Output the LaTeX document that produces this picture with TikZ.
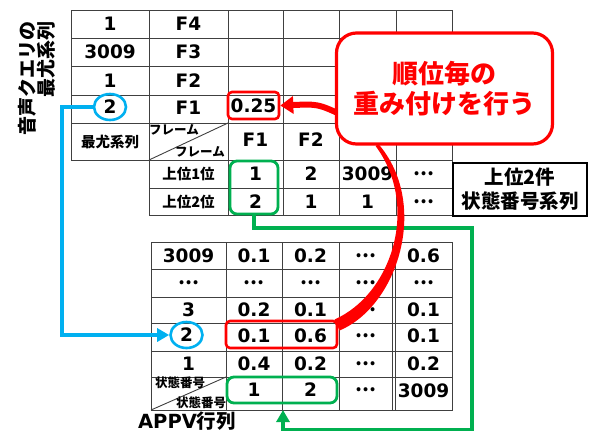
\documentclass[tikz,border=0pt]{standalone}
\usepackage{fontspec}
\setmainfont{DejaVu Sans}
\newfontfamily\jp{Noto Sans CJK JP}
\usetikzlibrary{arrows.meta,shapes.geometric}
\definecolor{cblue}{HTML}{00B0F0}
\definecolor{cgreen}{HTML}{00B050}
\definecolor{cred}{HTML}{FF0000}
\newcommand{\jpdots}{{\jp\bfseries …}}
\begin{document}
\begin{tikzpicture}[x=1pt,y=-1pt,
  grid/.style={draw=black!75,line width=0.9pt},
  num/.style={font=\fontsize{18.5}{20}\selectfont\bfseries,inner sep=0pt},
  jps/.style={font=\jp\fontsize{14.5}{16}\selectfont\bfseries,inner sep=0pt},
  jpt/.style={font=\jp\fontsize{12.5}{14}\selectfont\bfseries,inner sep=0pt},
  bluecirc/.style={ellipse,draw=cblue,line width=2.6pt,minimum width=32pt,minimum height=26pt},
  redbox/.style={draw=cred,line width=2.6pt,rounded corners=4pt},
  greenbox/.style={draw=cgreen,line width=2.8pt,rounded corners=7pt},
  bluearrow/.style={cblue,line width=3.3pt,-{Triangle[length=12pt,width=13pt]}},
  greenarrow/.style={cgreen,line width=3.3pt,-{Triangle[length=12pt,width=13pt]}}]
\useasboundingbox (0,0) rectangle (594,432);

% ---------- top table grid ----------
\draw[grid] (71,10) rectangle (452,160);
\foreach \y in {38,66,95,123} \draw[grid] (71,\y) -- (452,\y);
\foreach \x in {149,228,283,339,396,452} \draw[grid] (\x,10) -- (\x,215);
\foreach \y in {188,215} \draw[grid] (149,\y) -- (452,\y);
\draw[grid] (149,160) -- (228,123);

% ---------- top table text ----------
\node[num] (a11) at (110,24) {1};
\node[num] (a12) at (188.5,24) {F4};
\node[num] (a21) at (110,52) {3009};
\node[num] (a22) at (188.5,52) {F3};
\node[num] (a31) at (110,80.5) {1};
\node[num] (a32) at (188.5,80.5) {F2};
\node[num,bluecirc] (a41) at (110,107) {2};
\node[num] (a42) at (188.5,108) {F1};
\node[num,redbox,minimum width=51pt,minimum height=27pt] (a43) at (253.5,105.5) {0.25};
\node[jps] (a51) at (110,141.5) {最尤系列};
\node[jpt] (a52) at (174,130) {フレーム};
\node[jpt] (a53) at (200,152) {フレーム};
\node[num] (a54) at (255.5,140) {F1};
\node[num] (a55) at (311,140) {F2};
\node[jps] (a61) at (188.5,174) {上位1位};
\node[num] (a62) at (255.5,174) {1};
\node[num] (a63) at (311,174) {2};
\node[num] (a64) at (367.5,174) {3009};
\node[num] (a65) at (424,174) {\jpdots};
\node[jps] (a71) at (188.5,201.5) {上位2位};
\node[num] (a72) at (255.5,201.5) {2};
\node[num] (a73) at (311,201.5) {1};
\node[num] (a74) at (367.5,201.5) {1};
\node[num] (a75) at (424,201.5) {\jpdots};
\node[greenbox,minimum width=48pt,minimum height=53pt] (gtop) at (254,187.5) {};

% ---------- top-k box ----------
\node[draw=black,line width=2.4pt,minimum width=134pt,minimum height=53pt,align=center,
      font=\jp\fontsize{19.5}{24}\selectfont\bfseries,inner sep=0pt] (kbox) at (520,189.5) {上位2件\\状態番号系列};

% ---------- bottom table grid ----------
\draw[grid] (151,242) rectangle (452,410);
\foreach \y in {269,297,323,351,377} \draw[grid] (151,\y) -- (452,\y);
\foreach \x in {226,282,339,392.5,395.5} \draw[grid] (\x,242) -- (\x,410);
\draw[grid] (151,410) -- (226,377);

% ---------- bottom table text ----------
\node[num] (b11) at (188.5,255.5) {3009};
\node[num] (b12) at (254,255.5) {0.1};
\node[num] (b13) at (310.5,255.5) {0.2};
\node[num] (b14) at (366,255.5) {\jpdots};
\node[num] (b15) at (423.5,255.5) {0.6};
\node[num] (b21) at (188.5,283) {\jpdots};
\node[num] (b22) at (254,283) {\jpdots};
\node[num] (b23) at (310.5,283) {\jpdots};
\node[num] (b24) at (366,283) {\jpdots};
\node[num] (b25) at (423.5,283) {\jpdots};
\node[num] (b31) at (188.5,310) {3};
\node[num] (b32) at (254,310) {0.2};
\node[num] (b33) at (310.5,310) {0.1};
\node[num] (b34) at (366,310) {\jpdots};
\node[num] (b35) at (423.5,310) {0.1};
\node[num,bluecirc] (b41) at (186.5,335) {2};
\node[num] (b42) at (254,336) {0.1};
\node[num] (b43) at (310.5,336) {0.6};
\node[num] (b44) at (366,336) {\jpdots};
\node[num] (b45) at (423.5,336) {0.1};
\node[num] (b51) at (188.5,364) {1};
\node[num] (b52) at (254,364) {0.4};
\node[num] (b53) at (310.5,364) {0.2};
\node[num] (b54) at (366,364) {\jpdots};
\node[num] (b55) at (423.5,364) {0.2};
\node[jpt] (b61) at (180,383) {状態番号};
\node[jpt] (b62) at (201,403) {状態番号};
\node[num] (b63) at (254,390) {1};
\node[num] (b64) at (310.5,390) {2};
\node[num] (b65) at (366,390) {\jpdots};
\node[num] (b66) at (423.5,391) {3009};
\node[redbox,minimum width=111pt,minimum height=27pt] (rbot) at (281.5,334.5) {};
\node[greenbox,minimum width=110pt,minimum height=26pt] (gbot) at (282,390) {};
\node[font=\fontsize{19.5}{22}\selectfont\bfseries,inner sep=0pt] (appv) at (187,421) {APPV{\jp 行列}};

% ---------- title ----------
\node[rotate=90,anchor=north east,align=right,inner sep=0pt,
      font=\jp\fontsize{19}{17.5}\selectfont\bfseries] (title) at (18,21) {音声クエリの\\最尤系列};

% ---------- connectors ----------
\coordinate (b1) at (62,107);
\coordinate (b2) at (62,335);
\draw[bluearrow] (a41.west) -- (b1) -- (b2) -- (b41.west);

\coordinate (g1) at (472,228);
\coordinate (g2) at (472,429.5);
\coordinate (gend) at (283,410);
\draw[greenarrow] (gtop.south) |- (g1) -- (g2) -| (gend);

% red tapered curve
\fill[cred] (334.5,319.5) .. controls (392,294) and (420,206) .. (375.6,146)
  -- (378.4,144) .. controls (430,204) and (398,306) .. (339.5,330.5) -- cycle;
\coordinate (rs) at (342,115);
\draw[cred,line width=6pt,-{Triangle[length=13pt,width=17pt]}] (rs) .. controls (318,104) .. (a43.east);

% callout
\node[draw=cred,line width=3.2pt,fill=white,rounded corners=20pt,minimum width=216pt,minimum height=111pt,
      align=center,text=cred,font=\jp\fontsize{26}{30}\selectfont\bfseries] (call) at (444.5,88.5) {順位毎の\\重み付けを行う};
\end{tikzpicture}
\end{document}
